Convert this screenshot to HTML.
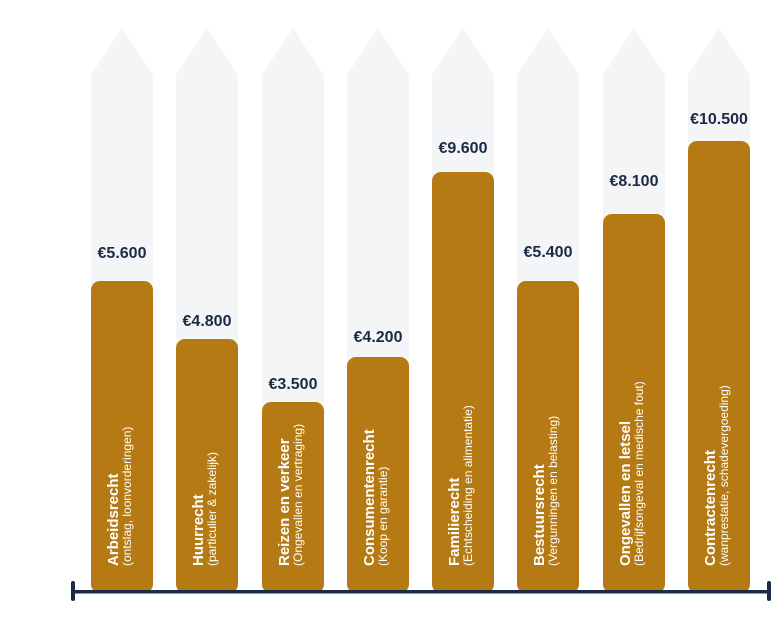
<!DOCTYPE html>
<html><head><meta charset="utf-8"><style>html,body{margin:0;padding:0;background:#fff}svg{display:block}</style></head><body>
<svg width="783" height="628" viewBox="0 0 783 628" xmlns="http://www.w3.org/2000/svg" font-family="Liberation Sans, sans-serif">
<g fill="#f4f5f7">
<polygon points="91,590 91,75 122,28 153,75 153,590"/>
<polygon points="176,590 176,75 207,28 238,75 238,590"/>
<polygon points="262,590 262,75 293,28 324,75 324,590"/>
<polygon points="347,590 347,75 378,28 409,75 409,590"/>
<polygon points="432,590 432,75 463,28 494,75 494,590"/>
<polygon points="517,590 517,75 548,28 579,75 579,590"/>
<polygon points="603,590 603,75 634,28 665,75 665,590"/>
<polygon points="688,590 688,75 719,28 750,75 750,590"/>
</g>
<g fill="#b57a14">
<rect x="91" y="281" width="62" height="312" rx="9"/>
<rect x="176" y="339" width="62" height="254" rx="9"/>
<rect x="262" y="402" width="62" height="191" rx="9"/>
<rect x="347" y="357" width="62" height="236" rx="9"/>
<rect x="432" y="172" width="62" height="421" rx="9"/>
<rect x="517" y="281" width="62" height="312" rx="9"/>
<rect x="603" y="214" width="62" height="379" rx="9"/>
<rect x="688" y="141" width="62" height="452" rx="9"/>
</g>
<g fill="#1b2b45" font-size="16" font-weight="bold" text-anchor="middle">
<text x="122" y="258">€5.600</text>
<text x="207" y="326">€4.800</text>
<text x="293" y="389">€3.500</text>
<text x="378" y="342">€4.200</text>
<text x="463" y="153">€9.600</text>
<text x="548" y="257">€5.400</text>
<text x="634" y="186">€8.100</text>
<text x="719" y="124">€10.500</text>
</g>
<g fill="#fff">
<g transform="translate(118,566) rotate(-90)"><text font-size="15" font-weight="bold">Arbeidsrecht</text><text y="13" font-size="12">(ontslag, loonvorderingen)</text></g>
<g transform="translate(203,566) rotate(-90)"><text font-size="15" font-weight="bold">Huurrecht</text><text y="13" font-size="12">(particulier &amp; zakelijk)</text></g>
<g transform="translate(289,566) rotate(-90)"><text font-size="15" font-weight="bold">Reizen en verkeer</text><text y="13" font-size="12">(Ongevallen en vertraging)</text></g>
<g transform="translate(374,566) rotate(-90)"><text font-size="15" font-weight="bold">Consumentenrecht</text><text y="13" font-size="12">(Koop en garantie)</text></g>
<g transform="translate(459,566) rotate(-90)"><text font-size="15" font-weight="bold">Familierecht</text><text y="13" font-size="12">(Echtscheiding en alimentatie)</text></g>
<g transform="translate(544,566) rotate(-90)"><text font-size="15" font-weight="bold">Bestuursrecht</text><text y="13" font-size="12">(Vergunningen en belasting)</text></g>
<g transform="translate(630,566) rotate(-90)"><text font-size="15" font-weight="bold">Ongevallen en letsel</text><text y="13" font-size="12">(Bedrijfsongeval en medische fout)</text></g>
<g transform="translate(715,566) rotate(-90)"><text font-size="15" font-weight="bold">Contractenrecht</text><text y="13" font-size="12">(wanprestatie, schadevergoeding)</text></g>
</g>
<rect x="72" y="590" width="698" height="3.5" fill="#1b2b45"/>
<rect x="71" y="581" width="4" height="20" rx="2" fill="#1b2b45"/>
<rect x="767" y="581" width="4" height="20" rx="2" fill="#1b2b45"/>
</svg>
</body></html>
